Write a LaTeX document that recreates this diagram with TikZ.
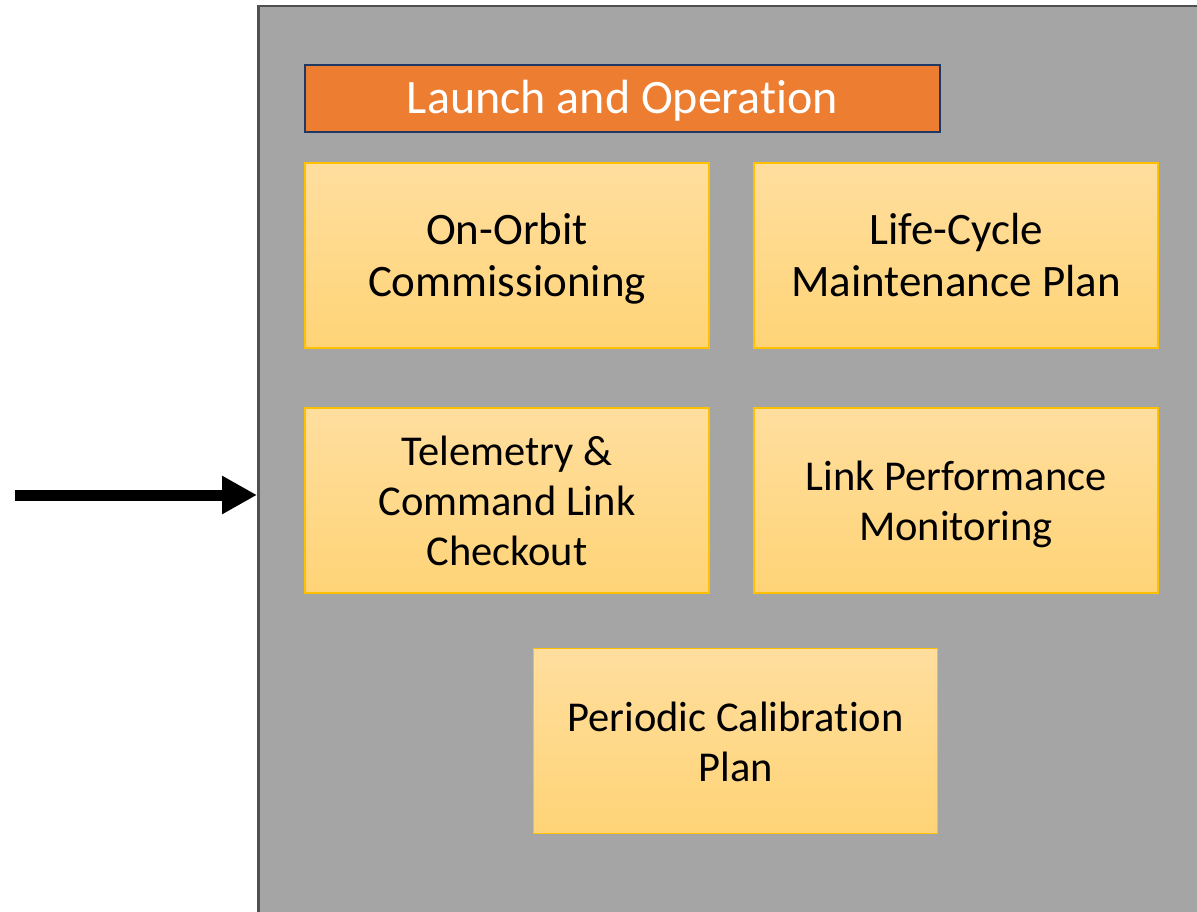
\documentclass[tikz,border=0pt]{standalone}
\usepackage{fontspec}
\setmainfont{Carlito}[Ligatures=NoCommon, WordSpace={1,0,0}]
\usetikzlibrary{arrows.meta, positioning}
\definecolor{panelgray}{HTML}{A5A5A5}
\definecolor{paneledge}{HTML}{505050}
\definecolor{titleorange}{HTML}{ED7D31}
\definecolor{titlenavy}{HTML}{203864}
\definecolor{boxtop}{HTML}{FFDE9E}
\definecolor{boxbot}{HTML}{FFD477}
\definecolor{boxedge}{HTML}{FFC000}
% even line box, so text sits the same in every box
\newcommand{\ls}{\rule[-10pt]{0pt}{50pt}}
\tikzset{
  task/.style={
    rectangle, draw=boxedge, line width=1.5pt,
    top color=boxtop, bottom color=boxbot,
    minimum width=404pt, minimum height=185pt,
    align=center,
    font=\fontsize{45}{52}\selectfont
  },
  snugtask/.style={task, font=\fontsize{42.5}{50}\selectfont},
  arr/.style={line width=11pt, -{Triangle[length=35pt, width=36pt]}}
}
\begin{document}
\begin{tikzpicture}[
    x=1pt, y=-1pt,
    title/.style={rectangle, draw=titlenavy, line width=2.5pt, fill=titleorange,
                  minimum width=635pt, minimum height=67pt, text=white,
                  text height=35pt, text depth=5pt,
                  font=\fontsize{48}{56}\selectfont}
  ]
  \useasboundingbox (0,0) rectangle (1197,912);
  % grey frame runs off the right and bottom edges
  \node[rectangle, draw=paneledge, line width=2.5pt, fill=panelgray, anchor=north west,
        minimum width=960pt, minimum height=930pt, inner sep=0pt] (panel) at (257,5) {};
  \node[title] (launch) at (622.5,98.5) {Launch and Operation};

  \node[task]     (commission) at (507,255.5) {\ls On-Orbit\\Commissioning\ls};
  \node[task]     (lifecycle)  at (956,255.5) {\ls Life-Cycle\\Maintenance Plan\ls};
  \node[snugtask] (ttc)        at (507,500.5) {\ls Telemetry \&\\Command Link\\Checkout\ls};
  \node[snugtask] (linkperf)   at (956,500.5) {\ls Link Performance\\Monitoring\ls};
  \node[snugtask] (calib)      at (735.5,741) {\ls Periodic Calibration\\Plan\ls};

  \coordinate (src) at (15,495);
  \draw[arr] (src) -- (src -| panel.west);
\end{tikzpicture}
\end{document}
